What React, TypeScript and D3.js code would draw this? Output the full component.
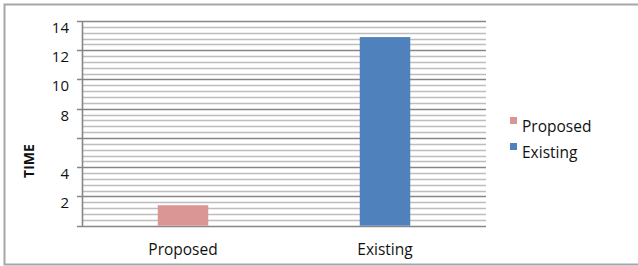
import React from "react";
import { select, scaleLinear, scaleBand, range } from "d3";

const categories = ["Proposed", "Existing"];
const times = [1.4, 12.9];
const colors = ["#d99694", "#4f81bd"];
const majorTicks = [0, 2, 4, 6, 8, 10, 12, 14];
const tickLabels = ["", "2", "4", "", "8", "10", "12", "14"];
const legendNames = ["Proposed", "Existing"];

const font = "'Open Sans', 'Noto Sans', sans-serif";

export const TimeChart = () => {
  const svgRef = React.useRef<SVGSVGElement>(null);
  const width = 638;
  const height = 266;
  const margin = { top: 21, right: 152, bottom: 40, left: 82 };

  React.useEffect(() => {
    const svg = select(svgRef.current);

    const x = scaleBand()
      .domain(categories)
      .range([margin.left, width - margin.right])
      .paddingInner(0.75)
      .paddingOuter(0.375);

    const y = scaleLinear()
      .domain([0, 14])
      .range([height - margin.bottom - 0.3, margin.top]);

    // outer border (no right edge visible)
    svg
      .append("path")
      .attr("d", `M${width},4.5 H4.5 V264.5 H${width}`)
      .attr("fill", "none")
      .attr("stroke", "#a6a6a6")
      .attr("stroke-width", 2);

    // minor gridlines every 0.4
    const minor = range(0, 14.001, 0.4).filter(
      (v) => Math.abs(v / 2 - Math.round(v / 2)) > 0.01
    );
    svg
      .append("g")
      .selectAll("line")
      .data(minor)
      .join("line")
      .attr("x1", margin.left)
      .attr("x2", width - margin.right)
      .attr("y1", (d) => Math.round(y(d)) + 0.5)
      .attr("y2", (d) => Math.round(y(d)) + 0.5)
      .attr("stroke", "#bdbdbd")
      .attr("stroke-width", 1.6);

    // major gridlines + ticks
    svg
      .append("g")
      .selectAll("line")
      .data(majorTicks)
      .join("line")
      .attr("x1", margin.left - 5)
      .attr("x2", width - margin.right)
      .attr("y1", (d) => Math.round(y(d)) + 0.5)
      .attr("y2", (d) => Math.round(y(d)) + 0.5)
      .attr("stroke", "#868686")
      .attr("stroke-width", 1.6);

    // y axis line
    svg
      .append("line")
      .attr("x1", margin.left + 0.5)
      .attr("x2", margin.left + 0.5)
      .attr("y1", y(14))
      .attr("y2", y(0) + 1)
      .attr("stroke", "#868686")
      .attr("stroke-width", 1.6);

    // bars
    svg
      .append("g")
      .selectAll("rect")
      .data(times)
      .join("rect")
      .attr("x", (d, i) => x(categories[i]) as number)
      .attr("y", (d) => y(d))
      .attr("width", x.bandwidth())
      .attr("height", (d) => y(0) - y(d))
      .style("fill", (d, i) => colors[i]);

    // y tick labels
    svg
      .append("g")
      .selectAll("text")
      .data(majorTicks)
      .join("text")
      .attr("x", 69)
      .attr("y", (d) => y(d) + 12)
      .attr("text-anchor", "end")
      .attr("font-family", font)
      .attr("font-size", 15)
      .attr("fill", "#111")
      .text((d, i) => tickLabels[i]);

    // x labels
    svg
      .append("g")
      .selectAll("text")
      .data(categories)
      .join("text")
      .attr("x", (d) => (x(d) as number) + x.bandwidth() / 2)
      .attr("y", 255)
      .attr("text-anchor", "middle")
      .attr("font-family", font)
      .attr("font-size", 15.5)
      .attr("fill", "#111")
      .text((d) => d);

    // axis title
    svg
      .append("text")
      .attr("transform", "translate(34,161) rotate(-90)")
      .attr("text-anchor", "middle")
      .attr("font-family", font)
      .attr("font-size", 14)
      .attr("font-weight", "bold")
      .attr("fill", "#111")
      .text("TIME");

    // legend
    const legend = svg
      .append("g")
      .selectAll("g")
      .data(legendNames)
      .join("g")
      .attr("transform", (d, i) => `translate(510,${117 + i * 26})`);
    legend
      .append("rect")
      .attr("width", 7)
      .attr("height", 7)
      .style("fill", (d, i) => colors[i]);
    legend
      .append("text")
      .attr("x", 12)
      .attr("y", 14.5)
      .attr("font-family", font)
      .attr("font-size", 15.5)
      .attr("fill", "#111")
      .text((d) => d);

    return () => {
      svg.selectAll("*").remove();
    };
  }, []);

  return (
    <svg
      ref={svgRef}
      width={width}
      height={height}
      style={{ position: "absolute", left: 0, top: 0, background: "#fff" }}
    />
  );
};

export default function App() {
  return <TimeChart />;
}
